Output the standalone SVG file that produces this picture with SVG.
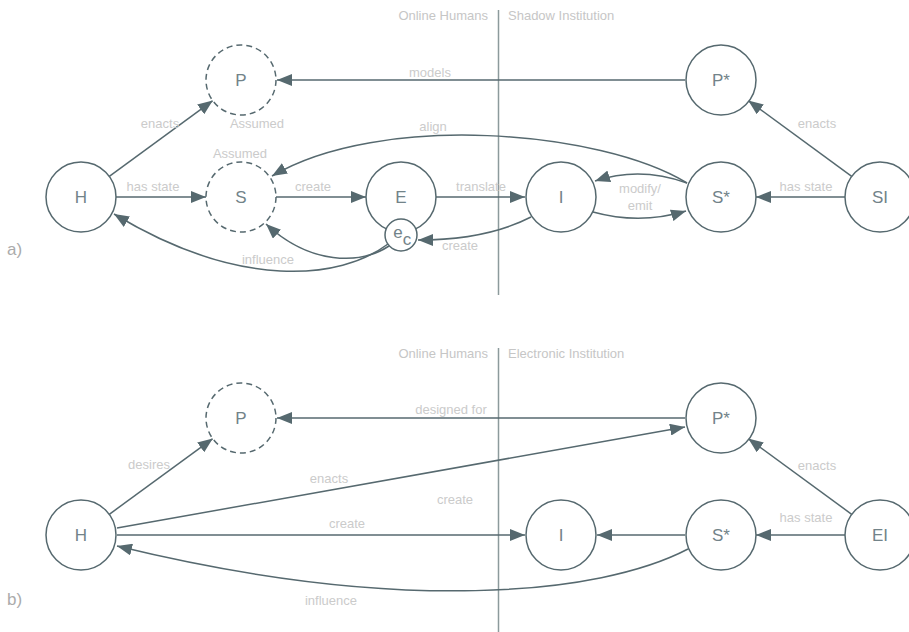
<svg xmlns="http://www.w3.org/2000/svg" width="909" height="632" viewBox="0 0 909 632">
<style>
  .node { fill: #ffffff; stroke: #56696f; stroke-width: 1.5; }
  .dash { stroke-dasharray: 6 4; }
  .nt { font-family: "Liberation Sans", Arial, sans-serif; font-size: 17px; fill: #728389; text-anchor: middle; }
  .lbl { font-family: "Liberation Sans", Arial, sans-serif; font-size: 13px; fill: #cbcbcb; text-anchor: middle; }
  .hdr { font-family: "Liberation Sans", Arial, sans-serif; font-size: 13px; fill: #c6c6c6; }
  .tag { font-family: "Liberation Sans", Arial, sans-serif; font-size: 17px; fill: #ababab; }
  .edge { fill: none; stroke: #56696f; stroke-width: 1.5; marker-end: url(#arr); }
  .div { stroke: #8c9a9c; stroke-width: 1.5; }
</style>
<defs>
  <marker id="arr" viewBox="0 0 15 12" refX="15" refY="6" markerWidth="15" markerHeight="12" orient="auto" markerUnits="userSpaceOnUse">
    <path d="M0,0 L15,6 L0,12 z" fill="#56696f"/>
  </marker>
</defs>

<!-- Panel a headers -->
<g id="headers-a">
  <line class="div" x1="498.5" y1="10" x2="498.5" y2="295"/>
  <text class="hdr" x="488" y="20" text-anchor="end">Online Humans</text>
  <text class="hdr" x="508" y="20">Shadow Institution</text>
  <text class="tag" x="7" y="255">a)</text>
</g>

<!-- Panel b headers -->
<g id="headers-b">
  <line class="div" x1="498.5" y1="348" x2="498.5" y2="632"/>
  <text class="hdr" x="488" y="358" text-anchor="end">Online Humans</text>
  <text class="hdr" x="508" y="358">Electronic Institution</text>
  <text class="tag" x="7" y="605">b)</text>
</g>

<!-- Connectors -->
<g id="connectors">
  <!-- panel a -->
  <line class="edge" x1="109.3" y1="176.3" x2="212.8" y2="100.6"/>
  <line class="edge" x1="685" y1="80" x2="277" y2="80"/>
  <line class="edge" x1="851.7" y1="176.3" x2="748.2" y2="100.6"/>
  <line class="edge" x1="845" y1="197" x2="756" y2="197"/>
  <line class="edge" x1="116" y1="197" x2="206" y2="197"/>
  <line class="edge" x1="276" y1="197" x2="366" y2="197"/>
  <line class="edge" x1="436" y1="197" x2="525" y2="197"/>
  <path class="edge" d="M687,183 C600,130 380,112 272,176"/>
  <path class="edge" d="M687,183 Q640,166 595,181"/>
  <path class="edge" d="M593,212 Q640,225 686,211"/>
  <path class="edge" d="M531,217 C500,233 460,240 418,240"/>
  <path class="edge" d="M389,246 C360,265 310,265 266,224"/>
  <path class="edge" d="M388,244 C340,280 240,290 114,214"/>
  <!-- panel b -->
  <line class="edge" x1="109.3" y1="514.3" x2="212.8" y2="438.6"/>
  <line class="edge" x1="685" y1="418" x2="277" y2="418"/>
  <line class="edge" x1="117" y1="528" x2="685" y2="427"/>
  <line class="edge" x1="117" y1="535" x2="525" y2="535"/>
  <line class="edge" x1="685" y1="535" x2="597" y2="535"/>
  <line class="edge" x1="845" y1="535" x2="756" y2="535"/>
  <line class="edge" x1="851.7" y1="514.3" x2="748.2" y2="438.6"/>
  <path class="edge" d="M688,549 C600,595 400,615 117,546"/>
</g>

<!-- Edge labels -->
<g id="labels-a">
  <text class="lbl" x="160" y="128">enacts</text>
  <text class="lbl" x="257" y="128">Assumed</text>
  <text class="lbl" x="240" y="158">Assumed</text>
  <text class="lbl" x="153" y="191">has state</text>
  <text class="lbl" x="313" y="191">create</text>
  <text class="lbl" x="481" y="191">translate</text>
  <text class="lbl" x="640" y="193">modify/</text>
  <text class="lbl" x="640" y="210">emit</text>
  <text class="lbl" x="806" y="191">has state</text>
  <text class="lbl" x="817" y="128">enacts</text>
  <text class="lbl" x="430" y="77">models</text>
  <text class="lbl" x="433" y="131">align</text>
  <text class="lbl" x="460" y="250">create</text>
  <text class="lbl" x="268" y="264">influence</text>
</g>
<g id="labels-b">
  <text class="lbl" x="451" y="414">designed for</text>
  <text class="lbl" x="149" y="469">desires</text>
  <text class="lbl" x="329" y="483">enacts</text>
  <text class="lbl" x="347" y="528">create</text>
  <text class="lbl" x="455" y="504">create</text>
  <text class="lbl" x="331" y="605">influence</text>
  <text class="lbl" x="817" y="470">enacts</text>
  <text class="lbl" x="806" y="522">has state</text>
</g>

<!-- Nodes panel a -->
<g id="a-H"><circle class="node" cx="81" cy="197" r="35"/><text class="nt" x="81" y="203">H</text></g>
<g id="a-P"><circle class="node dash" cx="241" cy="80" r="35"/><text class="nt" x="241" y="86">P</text></g>
<g id="a-S"><circle class="node dash" cx="241" cy="197" r="35"/><text class="nt" x="241" y="203">S</text></g>
<g id="a-E"><circle class="node" cx="401" cy="197" r="35"/><text class="nt" x="401" y="203">E</text></g>
<g id="a-ec"><circle class="node" cx="401" cy="235" r="16"/><text class="nt" x="398" y="238" font-size="16">e</text><text class="nt" x="407" y="245" font-size="12">c</text></g>
<g id="a-I"><circle class="node" cx="561" cy="197" r="35"/><text class="nt" x="561" y="203">I</text></g>
<g id="a-Sstar"><circle class="node" cx="721" cy="197" r="35"/><text class="nt" x="721" y="203">S*</text></g>
<g id="a-Pstar"><circle class="node" cx="721" cy="80" r="35"/><text class="nt" x="721" y="86">P*</text></g>
<g id="a-SI"><circle class="node" cx="880" cy="197" r="35"/><text class="nt" x="880" y="203">SI</text></g>

<!-- Nodes panel b -->
<g id="b-H"><circle class="node" cx="81" cy="535" r="35"/><text class="nt" x="81" y="541">H</text></g>
<g id="b-P"><circle class="node dash" cx="241" cy="418" r="35"/><text class="nt" x="241" y="424">P</text></g>
<g id="b-I"><circle class="node" cx="561" cy="535" r="35"/><text class="nt" x="561" y="541">I</text></g>
<g id="b-Sstar"><circle class="node" cx="721" cy="535" r="35"/><text class="nt" x="721" y="541">S*</text></g>
<g id="b-Pstar"><circle class="node" cx="721" cy="418" r="35"/><text class="nt" x="721" y="424">P*</text></g>
<g id="b-EI"><circle class="node" cx="880" cy="535" r="35"/><text class="nt" x="880" y="541">EI</text></g>
</svg>
